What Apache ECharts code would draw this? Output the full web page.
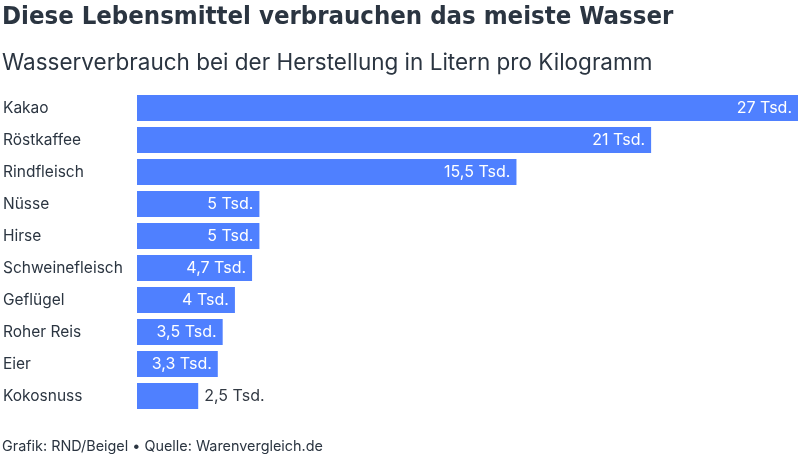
<!DOCTYPE html>
<html><head><meta charset="utf-8">
<script src="https://cdn.jsdelivr.net/npm/echarts@6/dist/echarts.min.js"></script>
<style>html,body{margin:0;padding:0;background:#fff}#c{width:800px;height:457px}</style>
</head><body><div id="c"></div>
<script>
const categories = ["Kakao","Röstkaffee","Rindfleisch","Nüsse","Hirse","Schweinefleisch","Geflügel","Roher Reis","Eier","Kokosnuss"];
const values = [27,21,15.5,5,5,4.7,4,3.5,3.3,2.5];
const valueLabels = ["27 Tsd.","21 Tsd.","15,5 Tsd.","5 Tsd.","5 Tsd.","4,7 Tsd.","4 Tsd.","3,5 Tsd.","3,3 Tsd.","2,5 Tsd."];
const titleText = "Diese Lebensmittel verbrauchen das meiste Wasser";
const subtitleText = "Wasserverbrauch bei der Herstellung in Litern pro Kilogramm";
const footerText = "Grafik: RND/Beigel • Quelle: Warenvergleich.de";

const chart = echarts.init(document.getElementById('c'), null, {renderer:'canvas'});
const data = values.map((v,i)=>({
  value: v,
  label: i === values.length-1
    ? {position:'right', color:'#333a44', distance:6}
    : {position:'insideRight', color:'#ffffff', distance:6}
}));
chart.setOption({
  animation:false,
  graphic:[
    {type:'text', left:2, top:4, style:{text:titleText, font:'bold 25.5px "DejaVu Sans Condensed", "DejaVu Sans", sans-serif', fill:'#2b3541'}},
    {type:'text', left:2, top:52, style:{text:subtitleText, font:'22.5px Inter, sans-serif', fill:'#2b3541'}},
    {type:'text', left:2, top:440, style:{text:footerText, font:'14.4px Inter, sans-serif', fill:'#2b3541'}}
  ],
  grid:{left:137, right:2, top:92, bottom:45, containLabel:false},
  xAxis:{type:'value', min:0, max:27, show:false},
  yAxis:{type:'category', data:categories, inverse:true,
    axisLine:{show:false}, axisTick:{show:false}, splitLine:{show:false},
    axisLabel:{align:'left', margin:134, color:'#2b3541', fontSize:15.5, fontFamily:'Inter, sans-serif'}},
  series:[{type:'bar', data:data, barCategoryGap:'19%',
    itemStyle:{color:'#4f80ff'},
    label:{show:true, fontSize:16, fontFamily:'Inter, sans-serif',
      formatter:p=>valueLabels[p.dataIndex]}}]
});
</script></body></html>
